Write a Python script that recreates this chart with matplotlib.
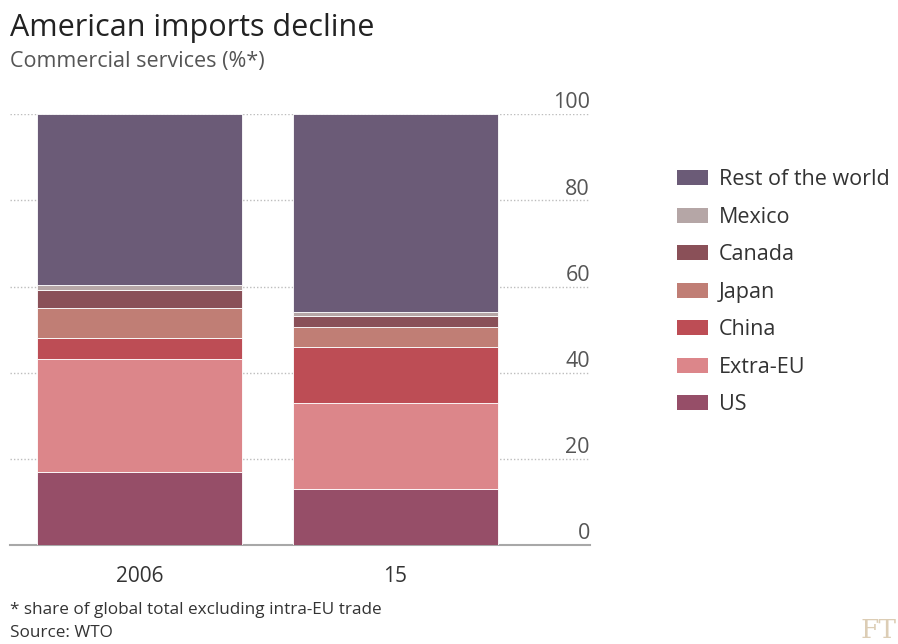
import matplotlib
matplotlib.use("Agg")
import matplotlib.pyplot as plt
import matplotlib.transforms as mtransforms
from matplotlib.patches import Patch

plt.rcParams['font.family'] = ['Open Sans', 'DejaVu Sans']

years = ['2006', '15']
segments = ['US', 'Extra-EU', 'China', 'Japan', 'Canada', 'Mexico', 'Rest of the world']
us = [17.0, 12.9]
extra_eu = [26.2, 20.1]
china = [4.9, 12.9]
japan = [7.0, 4.7]
canada = [4.2, 2.6]
mexico = [1.1, 0.8]
rest = [39.6, 46.0]
colors = ['#964e68', '#dc868a', '#bd4d55', '#c07e75', '#8a5058', '#b5a6a6', '#6b5b77']
yticks = [0, 20, 40, 60, 80, 100]

fig = plt.figure(figsize=(8.98, 6.44), dpi=100)
ax = fig.add_axes([10 / 898, 1 - 545 / 644, 580 / 898, (545 - 114.3) / 644])

x = [0, 1]
bottom = [0.0, 0.0]
for vals, col, name in zip([us, extra_eu, china, japan, canada, mexico, rest], colors, segments):
    ax.bar(x, vals, width=0.8, bottom=bottom, color=col, edgecolor='white',
           linewidth=0.6, label=name, zorder=2)
    bottom = [b + v for b, v in zip(bottom, vals)]

ax.set_xlim(-0.506, 1.76)
ax.set_ylim(0, 100)
for s in ax.spines.values():
    s.set_visible(False)
ax.set_xticks([])
ax.set_yticks([])

# dotted gridlines and right-hand labels
trans = mtransforms.blended_transform_factory(ax.transAxes, ax.transData)
for t in yticks:
    if t == 0:
        ax.axhline(0, color='#a8a8a8', lw=1.5, zorder=1, clip_on=False)
    else:
        ax.axhline(t, color='#bdbdbd', lw=1.0, ls=(0, (1, 1.5)), zorder=1)
    ax.text(1.0, t + 0.2, str(t), transform=trans, ha='right', va='bottom',
            fontsize=15.5, color='#555555')

for xi, lab in zip(x, years):
    ax.text(xi, -4.8, lab, ha='center', va='top', fontsize=15, color='#333333')

handles = [Patch(facecolor=c, label=n) for c, n in zip(colors, segments)][::-1]
fig.legend(handles=handles, loc='upper left', bbox_to_anchor=(677 / 898, 1 - 169 / 644),
           frameon=False, fontsize=15.5, handlelength=1.45, handleheight=0.7,
           handletextpad=0.5, labelspacing=0.77, labelcolor='#333333',
           borderpad=0, borderaxespad=0)

fig.text(10 / 898, 1 - 28 / 644, 'American imports decline', fontsize=22,
         color='#222222', va='center', ha='left')
fig.text(10 / 898, 1 - 61 / 644, 'Commercial services (%*)', fontsize=15.5,
         color='#555555', va='center', ha='left')
fig.text(10 / 898, 1 - 610 / 644, '* share of global total excluding intra-EU trade',
         fontsize=12.3, color='#333333', va='center', ha='left')
fig.text(10 / 898, 1 - 633 / 644, 'Source: WTO', fontsize=12.3, color='#333333',
         va='center', ha='left')
fig.text(896 / 898, 1 - 630 / 644, 'FT', fontsize=19, color='#dccdb5', family='serif',
         va='center', ha='right')

fig.savefig('out.png', dpi=100, facecolor='white')
